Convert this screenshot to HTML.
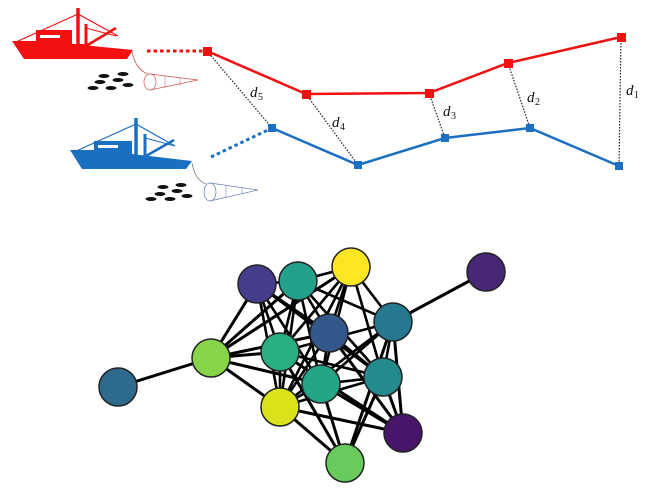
<!DOCTYPE html>
<html><head><meta charset="utf-8"><style>
html,body{margin:0;padding:0;background:#fff;}
svg{display:block;}
text{font-family:"Liberation Serif",serif;font-style:italic;font-size:15px;fill:#111;}
text.s{font-size:10px;font-style:normal;}
</style></head><body>
<svg width="654" height="499" viewBox="0 0 654 499" xmlns="http://www.w3.org/2000/svg">
<!-- red boat -->
<g fill="#f21010" stroke="#f21010">
<polygon points="12,41 36,41 36,30 72,30 72,44 133,50 127,59 24,59" stroke="none"/>
<polygon points="72,44 90,44 90,48 72,48" stroke="none"/>
<line x1="78" y1="8" x2="78" y2="50" stroke-width="3.5"/>
<line x1="86" y1="24" x2="86" y2="48" stroke-width="3"/>
<line x1="16" y1="42" x2="78" y2="14" stroke-width="1.2"/>
<line x1="78" y1="14" x2="118" y2="36" stroke-width="1.2"/>
<line x1="86" y1="28" x2="116" y2="36" stroke-width="1"/>
<line x1="86" y1="46" x2="116" y2="28" stroke-width="2.5"/>
</g>
<rect x="40" y="35" width="20" height="3" fill="#fff"/>
<path d="M132,52 Q136,70 148,74" stroke="#b33" fill="none" stroke-width="0.6"/>
<ellipse cx="150" cy="82" rx="6" ry="8" fill="none" stroke="#c55" stroke-width="0.7"/>
<path d="M150,74 L198,80 L150,90" fill="none" stroke="#c55" stroke-width="0.7"/>
<line x1="165" y1="76" x2="165" y2="88" stroke="#c55" stroke-width="0.5"/>
<line x1="180" y1="78" x2="180" y2="86" stroke="#c55" stroke-width="0.5"/>
<g fill="#111">
<ellipse cx="104" cy="76" rx="5.5" ry="2"/><ellipse cx="123" cy="74" rx="5.5" ry="2"/>
<ellipse cx="100" cy="82" rx="5.5" ry="2"/><ellipse cx="118" cy="80" rx="5.5" ry="2"/>
<ellipse cx="93" cy="88" rx="5.5" ry="2"/><ellipse cx="111" cy="88" rx="5.5" ry="2"/><ellipse cx="128" cy="85" rx="5.5" ry="2"/>
</g>
<!-- blue boat -->
<g fill="#1a6fc0" stroke="#1a6fc0">
<polygon points="70,150 94,150 94,141 132,141 132,154 192,161 186,169 82,169" stroke="none"/>
<line x1="136" y1="118" x2="136" y2="162" stroke-width="3.5"/>
<line x1="145" y1="134" x2="145" y2="160" stroke-width="3"/>
<line x1="74" y1="152" x2="136" y2="124" stroke-width="1.2"/>
<line x1="136" y1="124" x2="175" y2="146" stroke-width="1.2"/>
<line x1="145" y1="138" x2="175" y2="146" stroke-width="1"/>
<line x1="146" y1="156" x2="174" y2="140" stroke-width="2.5"/>
</g>
<rect x="98" y="145" width="20" height="3" fill="#fff"/>
<path d="M192,163 Q195,180 206,184" stroke="#446" fill="none" stroke-width="0.6"/>
<ellipse cx="210" cy="192" rx="6" ry="9" fill="none" stroke="#67a" stroke-width="0.7"/>
<path d="M210,183 L258,190 L210,201" fill="none" stroke="#67a" stroke-width="0.7"/>
<line x1="226" y1="185" x2="226" y2="198" stroke="#67a" stroke-width="0.5"/>
<line x1="242" y1="187" x2="242" y2="194" stroke="#67a" stroke-width="0.5"/>
<g fill="#111">
<ellipse cx="163" cy="187" rx="5.5" ry="2"/><ellipse cx="181" cy="185" rx="5.5" ry="2"/>
<ellipse cx="160" cy="194" rx="5.5" ry="2"/><ellipse cx="177" cy="191" rx="5.5" ry="2"/>
<ellipse cx="151" cy="199" rx="5.5" ry="2"/><ellipse cx="170" cy="199" rx="5.5" ry="2"/><ellipse cx="187" cy="196" rx="5.5" ry="2"/>
</g>
<g stroke="#222" stroke-width="1.2" stroke-dasharray="1.5,1.5">
<line x1="207" y1="51" x2="272" y2="128"/>
<line x1="306" y1="94" x2="358" y2="165"/>
<line x1="429" y1="93" x2="445" y2="138"/>
<line x1="508" y1="63" x2="530" y2="128"/>
<line x1="621" y1="37" x2="619" y2="166"/>
</g>
<line x1="147" y1="51" x2="205" y2="51" stroke="#f21010" stroke-width="3" stroke-dasharray="3.5,3"/>
<line x1="211" y1="157" x2="270" y2="129" stroke="#1a6fc0" stroke-width="3" stroke-dasharray="3.5,3"/>
<polyline points="207,51 306,94 429,93 508,63 621,37" fill="none" stroke="#f21010" stroke-width="2.5"/>
<polyline points="272,128 358,165 445,138 530,128 619,166" fill="none" stroke="#1a6fc0" stroke-width="2.5"/>
<g fill="#f21010">
<rect x="203" y="47" width="9" height="9"/><rect x="302" y="90" width="9" height="9"/>
<rect x="425" y="89" width="9" height="9"/><rect x="504" y="59" width="9" height="9"/><rect x="617" y="33" width="9" height="9"/>
</g>
<g fill="#1a6fc0">
<rect x="268" y="124" width="8" height="8"/><rect x="354" y="161" width="8" height="8"/>
<rect x="441" y="134" width="8" height="8"/><rect x="526" y="124" width="8" height="8"/><rect x="615" y="162" width="8" height="8"/>
</g>
<text x="250" y="97">d</text><text class="s" x="258" y="100">5</text>
<text x="332" y="127">d</text><text class="s" x="340" y="130">4</text>
<text x="443" y="116">d</text><text class="s" x="451" y="119">3</text>
<text x="527" y="102">d</text><text class="s" x="535" y="105">2</text>
<text x="626" y="95">d</text><text class="s" x="634" y="98">1</text>
<g stroke="#000" stroke-width="3">
<line x1="486" y1="272" x2="393" y2="322"/>
<line x1="118" y1="387" x2="211" y2="358"/>
<line x1="211" y1="358" x2="257" y2="284"/><line x1="211" y1="358" x2="298" y2="281"/>
<line x1="211" y1="358" x2="280" y2="352"/><line x1="211" y1="358" x2="329" y2="333"/>
<line x1="211" y1="358" x2="321" y2="384"/><line x1="211" y1="358" x2="280" y2="407"/>
<line x1="211" y1="358" x2="351" y2="267"/>
<line x1="280" y1="407" x2="345" y2="463"/><line x1="321" y1="384" x2="345" y2="463"/>
<line x1="383" y1="377" x2="345" y2="463"/><line x1="393" y1="322" x2="345" y2="463"/>
<line x1="280" y1="352" x2="345" y2="463"/>
<line x1="403" y1="433" x2="280" y2="407"/><line x1="403" y1="433" x2="383" y2="377"/>
<line x1="403" y1="433" x2="393" y2="322"/><line x1="403" y1="433" x2="329" y2="333"/>
<line x1="403" y1="433" x2="321" y2="384"/><line x1="403" y1="433" x2="280" y2="352"/>
<g stroke-width="2.6">
<line x1="257" y1="284" x2="298" y2="281"/><line x1="257" y1="284" x2="329" y2="333"/>
<line x1="257" y1="284" x2="280" y2="352"/><line x1="257" y1="284" x2="321" y2="384"/>
<line x1="257" y1="284" x2="383" y2="377"/><line x1="257" y1="284" x2="280" y2="407"/>
<line x1="298" y1="281" x2="351" y2="267"/><line x1="298" y1="281" x2="393" y2="322"/>
<line x1="298" y1="281" x2="280" y2="352"/><line x1="298" y1="281" x2="321" y2="384"/>
<line x1="298" y1="281" x2="383" y2="377"/><line x1="298" y1="281" x2="280" y2="407"/>
<line x1="351" y1="267" x2="393" y2="322"/><line x1="351" y1="267" x2="329" y2="333"/>
<line x1="351" y1="267" x2="280" y2="352"/><line x1="351" y1="267" x2="321" y2="384"/>
<line x1="351" y1="267" x2="383" y2="377"/><line x1="351" y1="267" x2="280" y2="407"/>
<line x1="393" y1="322" x2="280" y2="352"/><line x1="393" y1="322" x2="321" y2="384"/>
<line x1="393" y1="322" x2="383" y2="377"/><line x1="393" y1="322" x2="280" y2="407"/>
<line x1="329" y1="333" x2="321" y2="384"/><line x1="329" y1="333" x2="280" y2="407"/>
<line x1="329" y1="333" x2="383" y2="377"/><line x1="329" y1="333" x2="298" y2="281"/>
<line x1="280" y1="352" x2="383" y2="377"/><line x1="280" y1="352" x2="280" y2="407"/>
<line x1="321" y1="384" x2="383" y2="377"/><line x1="321" y1="384" x2="280" y2="407"/>
<line x1="280" y1="407" x2="383" y2="377"/>
</g>
</g>
<g stroke="#222" stroke-width="1.5">
<circle cx="257" cy="284" r="19" fill="#433d8b"/>
<circle cx="298" cy="281" r="19" fill="#23a08a"/>
<circle cx="351" cy="267" r="19" fill="#fde725"/>
<circle cx="486" cy="272" r="19" fill="#482777"/>
<circle cx="393" cy="322" r="19" fill="#26788e"/>
<circle cx="329" cy="333" r="19" fill="#33598c"/>
<circle cx="280" cy="352" r="19" fill="#28ae80"/>
<circle cx="211" cy="358" r="19" fill="#86d549"/>
<circle cx="118" cy="387" r="19" fill="#2e6a8e"/>
<circle cx="383" cy="377" r="19" fill="#238a8d"/>
<circle cx="321" cy="384" r="19" fill="#24a586"/>
<circle cx="280" cy="407" r="19" fill="#dae319"/>
<circle cx="403" cy="433" r="19" fill="#47166b"/>
<circle cx="345" cy="463" r="19" fill="#67cc5c"/>
</g>
</svg>
</body></html>
